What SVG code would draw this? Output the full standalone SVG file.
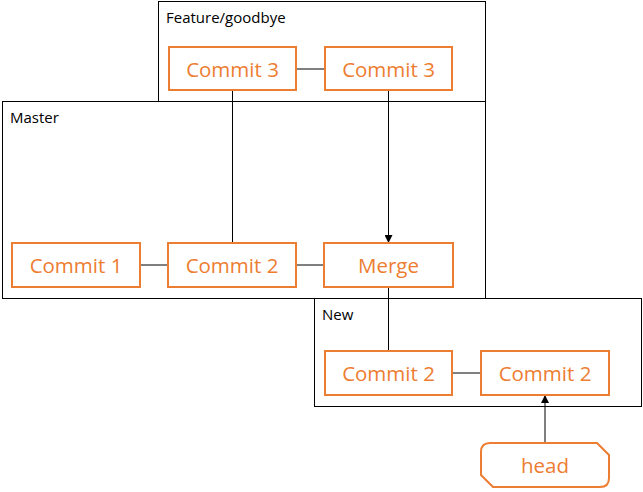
<svg xmlns="http://www.w3.org/2000/svg" width="643" height="492" viewBox="0 0 643 492">
<style>
.grp{fill:#fff;stroke:#000;stroke-width:1}
.glabel{font-family:"Open Sans","Noto Sans",sans-serif;font-size:15px;fill:#000}
.node{fill:#fff;stroke:#ED7D31;stroke-width:2}
.ntext{font-family:"Open Sans","Noto Sans",sans-serif;font-size:20.5px;fill:#ED7D31;text-anchor:middle;dominant-baseline:central}
.conn{stroke:#000;stroke-width:1;fill:none}
</style>
<defs>
<marker id="arr" viewBox="0 0 10 10" refX="10" refY="5" markerWidth="8" markerHeight="8" markerUnits="userSpaceOnUse" orient="auto">
<path d="M0,0 L10,5 L0,10 Z" fill="#000"/>
</marker>
</defs>
<rect width="643" height="492" fill="#fff"/>
<g id="feature-group">
<rect class="grp" x="158.5" y="1.5" width="327" height="100"/>
<text class="glabel" x="166" y="23">Feature/goodbye</text>
</g>
<g id="master-group">
<rect class="grp" x="2.5" y="101.5" width="483" height="197"/>
<text class="glabel" x="10" y="123">Master</text>
</g>
<g id="new-group">
<rect class="grp" x="314.5" y="298.5" width="327" height="108"/>
<text class="glabel" x="322" y="320">New</text>
</g>
<g id="connectors">
<line class="conn" x1="296" y1="69" x2="325" y2="69"/>
<line class="conn" x1="232.5" y1="90" x2="232.5" y2="243"/>
<line class="conn" x1="388.5" y1="90" x2="388.5" y2="243" marker-end="url(#arr)"/>
<line class="conn" x1="140" y1="265" x2="168" y2="265"/>
<line class="conn" x1="296" y1="265" x2="324" y2="265"/>
<line class="conn" x1="388.5" y1="287" x2="388.5" y2="351"/>
<line class="conn" x1="452" y1="373" x2="481" y2="373"/>
<line class="conn" x1="545" y1="443" x2="545" y2="395" marker-end="url(#arr)"/>
</g>
<g id="f-commit3a"><rect class="node" x="169" y="47" width="127" height="43"/><text class="ntext" x="232.5" y="68.5">Commit 3</text></g>
<g id="f-commit3b"><rect class="node" x="325" y="47" width="127" height="43"/><text class="ntext" x="388.5" y="68.5">Commit 3</text></g>
<g id="m-commit1"><rect class="node" x="12" y="243" width="128" height="44"/><text class="ntext" x="76" y="265">Commit 1</text></g>
<g id="m-commit2"><rect class="node" x="168" y="243" width="128" height="44"/><text class="ntext" x="232" y="265">Commit 2</text></g>
<g id="m-merge"><rect class="node" x="324" y="243" width="129" height="44"/><text class="ntext" x="388.5" y="265">Merge</text></g>
<g id="n-commit2a"><rect class="node" x="325" y="351" width="127" height="44"/><text class="ntext" x="388.5" y="373">Commit 2</text></g>
<g id="n-commit2b"><rect class="node" x="481" y="351" width="128" height="44"/><text class="ntext" x="545" y="373">Commit 2</text></g>
<g id="head">
<path class="node" d="M490,443 L597,443 L609,455 L609,478 Q609,487 600,487 L493,487 L481,475 L481,452 Q481,443 490,443 Z"/>
<text class="ntext" x="545" y="465">head</text>
</g>
</svg>
